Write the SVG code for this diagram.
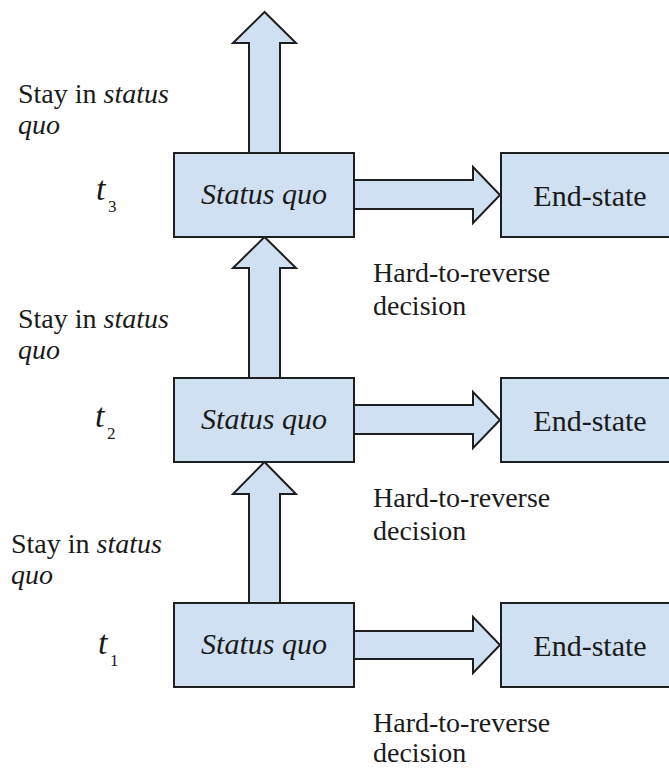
<svg xmlns="http://www.w3.org/2000/svg" width="669" height="768" viewBox="0 0 669 768" font-family="'Liberation Serif', 'Times New Roman', 'DejaVu Serif', serif">
<style>
.box{fill:#cfe0f2;stroke:#1f1f1f;stroke-width:2}
.arr{fill:#cfe0f2;stroke:#1f1f1f;stroke-width:2;stroke-linejoin:miter}
text{font-family:'Liberation Serif','Times New Roman','DejaVu Serif',serif;fill:#1a1a1a}
.bt{font-size:30px}
.lb{font-size:28px}
.it{font-style:italic}
.tl{font-size:34px;font-style:italic}
.sub{font-size:17px}
</style>
<rect width="669" height="768" fill="#ffffff"/>
<g id="connectors">
<path class="arr" d="M249,153 L249,43 L233,43 L264.5,12 L296,43 L280,43 L280,153"/>
<path class="arr" d="M249,378 L249,268 L233,268 L264.5,237 L296,268 L280,268 L280,378"/>
<path class="arr" d="M249,603 L249,494 L233,494 L264.5,462 L296,494 L280,494 L280,603"/>
<path class="arr" d="M354,180 L473,180 L473,167 L500,195 L473,223 L473,209 L354,209"/>
<path class="arr" d="M354,405 L473,405 L473,392 L500,420 L473,448 L473,434 L354,434"/>
<path class="arr" d="M354,631 L473,631 L473,617 L500,645 L473,673 L473,659 L354,659"/>
</g>
<g id="sq3"><rect class="box" x="174" y="153" width="180" height="84"/><text class="bt it" x="264" y="204" text-anchor="middle">Status quo</text></g>
<g id="sq2"><rect class="box" x="174" y="378" width="180" height="84"/><text class="bt it" x="264" y="429" text-anchor="middle">Status quo</text></g>
<g id="sq1"><rect class="box" x="174" y="603" width="180" height="84"/><text class="bt it" x="264" y="654" text-anchor="middle">Status quo</text></g>
<g id="es3"><rect class="box" x="501" y="153" width="190" height="84"/><text class="bt" x="590" y="206" text-anchor="middle">End-state</text></g>
<g id="es2"><rect class="box" x="501" y="378" width="190" height="84"/><text class="bt" x="590" y="431" text-anchor="middle">End-state</text></g>
<g id="es1"><rect class="box" x="501" y="603" width="190" height="84"/><text class="bt" x="590" y="656" text-anchor="middle">End-state</text></g>
<g id="labels-stay">
<text class="lb" x="18" y="103">Stay in <tspan class="it">status</tspan></text>
<text class="lb it" x="18" y="134">quo</text>
<text class="lb" x="18" y="328">Stay in <tspan class="it">status</tspan></text>
<text class="lb it" x="18" y="359">quo</text>
<text class="lb" x="11" y="553">Stay in <tspan class="it">status</tspan></text>
<text class="lb it" x="11" y="584">quo</text>
</g>
<g id="labels-time">
<text class="tl" x="96" y="200">t</text><text class="sub" x="108" y="212">3</text>
<text class="tl" x="95" y="427">t</text><text class="sub" x="107" y="439">2</text>
<text class="tl" x="98" y="654">t</text><text class="sub" x="110" y="666">1</text>
</g>
<g id="labels-decision">
<text class="lb" x="373" y="282">Hard-to-reverse</text>
<text class="lb" x="373" y="315">decision</text>
<text class="lb" x="373" y="507">Hard-to-reverse</text>
<text class="lb" x="373" y="540">decision</text>
<text class="lb" x="373" y="732">Hard-to-reverse</text>
<text class="lb" x="373" y="762">decision</text>
</g>
</svg>
